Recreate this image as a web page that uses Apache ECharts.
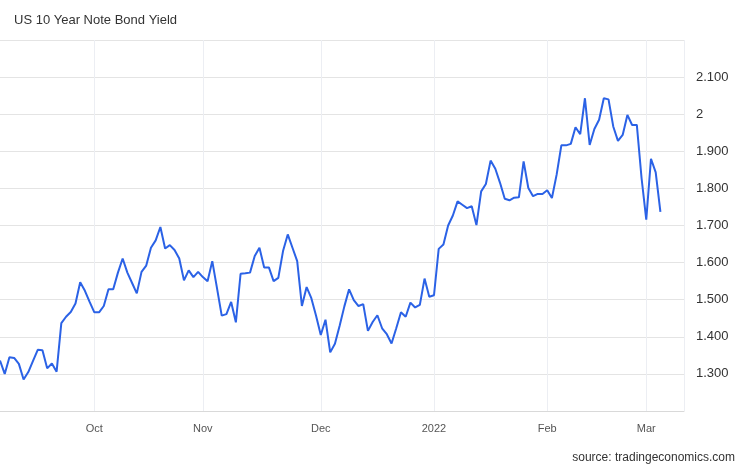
<!DOCTYPE html>
<html>
<head>
<meta charset="utf-8">
<style>
  html, body { margin: 0; padding: 0; background: #fff; }
  #chart { width: 746px; height: 468px; }
</style>
<script src="https://cdn.jsdelivr.net/npm/echarts@6/dist/echarts.min.js"></script>
</head>
<body>
<div id="chart"></div>
<script>
// daily yield readings, left to right
var yields = [
  1.336, 1.300, 1.345, 1.343, 1.327, 1.285, 1.305, 1.335, 1.365, 1.364,
  1.315, 1.328, 1.306, 1.437, 1.454, 1.467, 1.490, 1.547, 1.524, 1.494,
  1.466, 1.466, 1.483, 1.528, 1.528, 1.573, 1.611, 1.573, 1.545, 1.517,
  1.575, 1.592, 1.640, 1.660, 1.696, 1.638, 1.647, 1.634, 1.611, 1.552,
  1.579, 1.561, 1.575, 1.561, 1.550, 1.604, 1.531, 1.457, 1.461, 1.494,
  1.439, 1.570, 1.571, 1.573, 1.618, 1.640, 1.587, 1.587, 1.550, 1.559,
  1.631, 1.676, 1.640, 1.604, 1.483, 1.534, 1.504, 1.457, 1.405, 1.446,
  1.358, 1.381, 1.430, 1.482, 1.528, 1.499, 1.483, 1.488, 1.416, 1.440,
  1.458, 1.423, 1.407, 1.382, 1.423, 1.466, 1.454, 1.492, 1.479, 1.486,
  1.557, 1.508, 1.512, 1.637, 1.649, 1.700, 1.727, 1.765, 1.756, 1.747,
  1.752, 1.701, 1.792, 1.812, 1.875, 1.853, 1.815, 1.772, 1.768, 1.775,
  1.776, 1.873, 1.801, 1.779, 1.785, 1.785, 1.795, 1.774, 1.837, 1.916,
  1.916, 1.920, 1.965, 1.946, 2.043, 1.917, 1.960, 1.985, 2.043, 2.040,
  1.967, 1.928, 1.944, 1.998, 1.971, 1.971, 1.828, 1.716, 1.880, 1.843,
  1.737
];
// month labels and the point where each month starts
var monthLabels = ["Oct", "Nov", "Dec", "2022", "Feb", "Mar"];
var monthIndex = [20, 43, 68, 92, 116, 137];
var emptyAfter = 5; // blank days after the last reading

var total = yields.length + emptyAfter;
var categories = [];
for (var i = 0; i < total; i++) {
  var k = monthIndex.indexOf(i);
  categories.push(k >= 0 ? monthLabels[k] : "");
}
var isMonth = function (idx) { return monthIndex.indexOf(idx) >= 0 || idx === total - 1; };

var myChart = echarts.init(document.getElementById("chart"));
myChart.setOption({
  animation: false,
  backgroundColor: "#fff",
  title: {
    text: "US 10 Year Note Bond Yield",
    left: 9,
    top: 9,
    textStyle: { fontFamily: "Liberation Sans", fontSize: 13, fontWeight: "normal", color: "#333" }
  },
  graphic: [
    {
      type: "text",
      right: 11,
      top: 452,
      style: { text: "source: tradingeconomics.com", font: "12px 'Liberation Sans'", fill: "#333" }
    }
  ],
  grid: { left: 0, right: 62, top: 40, bottom: 57, containLabel: false },
  xAxis: {
    type: "category",
    data: categories,
    boundaryGap: false,
    axisLine: { lineStyle: { color: "#d9d9d9" } },
    axisTick: { show: false },
    axisLabel: {
      interval: function (idx) { return monthIndex.indexOf(idx) >= 0; },
      color: "#555",
      fontFamily: "Liberation Sans",
      fontSize: 11,
      margin: 12
    },
    splitLine: {
      show: true,
      interval: function (idx) { return isMonth(idx); },
      lineStyle: { color: "#eceef3", width: 1 }
    }
  },
  yAxis: {
    type: "value",
    position: "right",
    min: 1.2,
    max: 2.2,
    interval: 0.1,
    axisLine: { show: false },
    axisTick: { show: false },
    axisLabel: {
      margin: 12,
      color: "#333",
      fontFamily: "Liberation Sans",
      fontSize: 13,
      formatter: function (v) {
        if (v < 1.25 || v > 2.15) return "";
        if (Math.abs(v - 2) < 1e-6) return "2";
        return v.toFixed(3);
      }
    },
    splitLine: { lineStyle: { color: "#e4e4e4", width: 1 } }
  },
  series: [
    {
      type: "line",
      data: yields,
      showSymbol: false,
      symbol: "none",
      lineStyle: { color: "#2b62e6", width: 2 },
      itemStyle: { color: "#2b62e6" }
    }
  ]
});
</script>
</body>
</html>
